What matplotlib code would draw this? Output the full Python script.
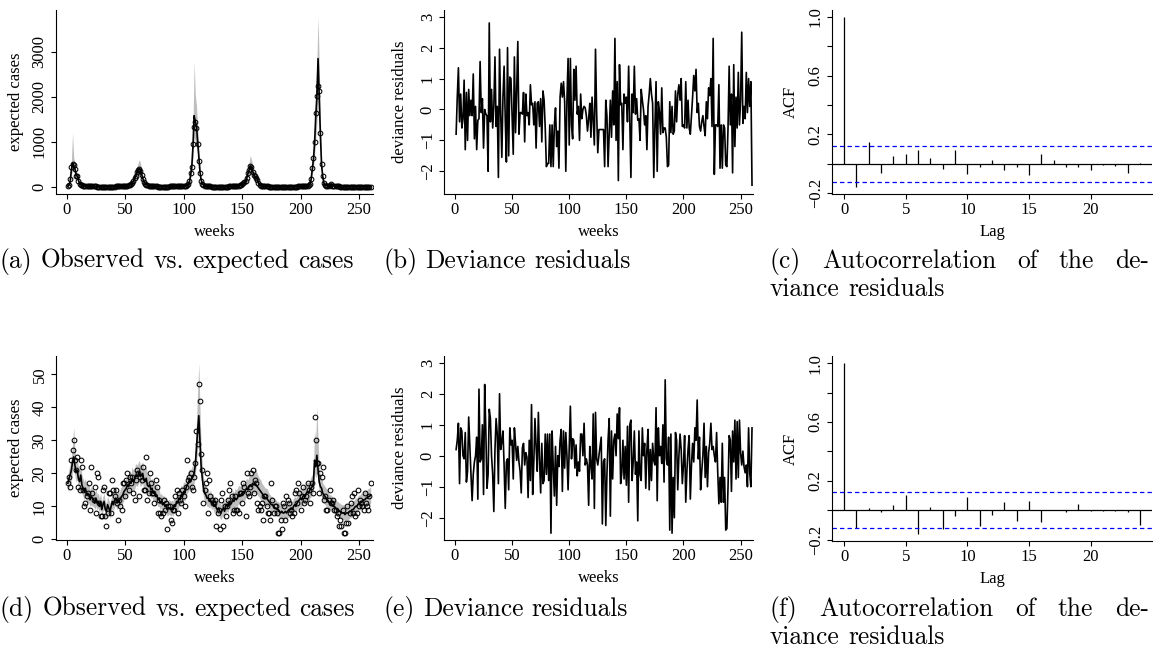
import numpy as np
import matplotlib
matplotlib.use("Agg")
import matplotlib.pyplot as plt

W, H, DPI = 1159, 662, 100

# ---------------- data ----------------
# Model 1: weekly counts (large outbreak data)
observed_a = [
    10, 40, 180, 430, 500, 480, 390, 240, 230, 120,
    70, 45, 30, 25, 20, 15, 12, 10, 8, 8,
    6, 6, 5, 5, 5, 4, 4, 4, 4, 3,
    3, 3, 3, 3, 3, 3, 3, 3, 4, 4,
    4, 5, 5, 6, 7, 8, 9, 10, 12, 15,
    18, 22, 30, 40, 60, 90, 130, 200, 240, 330,
    380, 400, 360, 260, 170, 110, 70, 45, 30, 20,
    15, 12, 10, 8, 6, 5, 5, 4, 4, 3,
    3, 3, 3, 3, 3, 4, 4, 5, 6, 7,
    8, 9, 10, 11, 12, 13, 14, 15, 16, 18,
    20, 25, 35, 60, 120, 300, 430, 960, 1330, 1430,
    1300, 960, 580, 310, 130, 60, 35, 20, 12, 8,
    6, 5, 5, 4, 4, 4, 4, 4, 4, 4,
    4, 4, 4, 4, 4, 4, 4, 4, 5, 5,
    6, 7, 8, 10, 12, 15, 20, 30, 45, 60,
    80, 100, 120, 200, 300, 380, 470, 430, 330, 250,
    230, 200, 150, 80, 40, 25, 15, 10, 8, 6,
    5, 5, 4, 4, 4, 3, 3, 3, 3, 3,
    3, 3, 3, 3, 3, 3, 3, 3, 3, 3,
    3, 3, 3, 3, 4, 4, 4, 5, 5, 6,
    7, 8, 10, 12, 15, 20, 30, 60, 170, 410,
    640, 1000, 1630, 2010, 2250, 2120, 1200, 500, 240, 80,
    40, 25, 18, 15, 30, 60, 25, 15, 10, 8,
    6, 5, 5, 4, 4, 4, 4, 3, 3, 3,
    3, 3, 3, 3, 3, 3, 3, 3, 3, 3,
    3, 3, 3, 3, 3, 3, 3, 3, 3, 3,
]
expected_a = [
    10, 30, 120, 380, 520, 480, 400, 280, 230, 140,
    80, 50, 35, 27, 22, 17, 13, 11, 9, 8,
    7, 6, 6, 5, 5, 5, 4, 4, 4, 4,
    4, 3, 3, 3, 3, 3, 3, 3, 4, 4,
    4, 5, 5, 6, 7, 8, 9, 10, 12, 14,
    17, 21, 28, 37, 55, 85, 120, 180, 230, 310,
    370, 400, 380, 290, 190, 120, 75, 50, 32, 22,
    16, 13, 10, 8, 7, 6, 5, 4, 4, 4,
    3, 3, 3, 3, 3, 4, 4, 5, 6, 7,
    8, 9, 10, 11, 12, 13, 14, 15, 17, 19,
    21, 25, 33, 55, 110, 260, 450, 900, 1580, 1450,
    1350, 1000, 620, 330, 150, 70, 38, 22, 14, 9,
    7, 6, 5, 5, 4, 4, 4, 4, 4, 4,
    4, 4, 4, 4, 4, 4, 4, 4, 5, 5,
    6, 7, 8, 10, 12, 15, 20, 28, 42, 58,
    78, 95, 115, 190, 290, 370, 450, 440, 350, 270,
    230, 200, 160, 90, 45, 27, 17, 11, 8, 6,
    5, 5, 4, 4, 4, 3, 3, 3, 3, 3,
    3, 3, 3, 3, 3, 3, 3, 3, 3, 3,
    3, 3, 3, 3, 4, 4, 4, 5, 5, 6,
    7, 8, 10, 12, 15, 19, 28, 55, 150, 380,
    600, 950, 1550, 2000, 2850, 2000, 1150, 480, 230, 80,
    40, 25, 18, 15, 28, 55, 27, 16, 11, 8,
    6, 5, 5, 4, 4, 4, 4, 3, 3, 3,
    3, 3, 3, 3, 3, 3, 3, 3, 3, 3,
    3, 3, 3, 3, 3, 3, 3, 3, 3, 3,
]
upper_a = [
    15, 45, 180, 550, 1200, 650, 520, 380, 300, 190,
    110, 70, 50, 38, 30, 24, 19, 16, 13, 11,
    10, 9, 8, 7, 7, 7, 6, 6, 6, 6,
    6, 5, 5, 5, 5, 5, 5, 5, 6, 6,
    6, 7, 7, 8, 10, 11, 13, 14, 17, 20,
    24, 30, 40, 52, 78, 120, 170, 250, 320, 430,
    520, 600, 540, 400, 270, 170, 105, 70, 45, 31,
    23, 18, 14, 11, 10, 8, 7, 6, 6, 6,
    5, 5, 5, 5, 5, 6, 6, 7, 8, 10,
    11, 13, 14, 15, 17, 18, 20, 21, 24, 27,
    30, 35, 46, 78, 155, 360, 630, 1300, 2800, 2050,
    1800, 1350, 850, 460, 210, 100, 53, 31, 20, 13,
    10, 8, 7, 7, 6, 6, 6, 6, 6, 6,
    6, 6, 6, 6, 6, 6, 6, 6, 7, 7,
    8, 10, 11, 14, 17, 21, 28, 40, 60, 82,
    110, 135, 165, 270, 410, 520, 700, 610, 480, 370,
    320, 280, 220, 125, 63, 38, 24, 16, 11, 8,
    7, 7, 6, 6, 6, 5, 5, 5, 5, 5,
    5, 5, 5, 5, 5, 5, 5, 5, 5, 5,
    5, 5, 5, 5, 6, 6, 6, 7, 7, 8,
    10, 11, 14, 17, 21, 27, 40, 78, 210, 530,
    840, 1330, 2100, 2800, 3780, 2700, 1550, 650, 320, 110,
    56, 35, 25, 21, 40, 78, 38, 23, 15, 11,
    8, 7, 7, 6, 6, 6, 6, 5, 5, 5,
    5, 5, 5, 5, 5, 5, 5, 5, 5, 5,
    5, 5, 5, 5, 5, 5, 5, 5, 5, 5,
]
lower_a = [
    7, 20, 80, 260, 360, 330, 280, 190, 160, 95,
    55, 35, 24, 19, 15, 12, 9, 8, 6, 5,
    5, 4, 4, 3, 3, 3, 3, 3, 3, 3,
    3, 2, 2, 2, 2, 2, 2, 2, 3, 3,
    3, 3, 3, 4, 5, 5, 6, 7, 8, 10,
    12, 15, 20, 26, 38, 60, 85, 125, 160, 215,
    255, 280, 265, 200, 130, 85, 52, 35, 22, 15,
    11, 9, 7, 5, 5, 4, 3, 3, 3, 3,
    2, 2, 2, 2, 2, 3, 3, 3, 4, 5,
    5, 6, 7, 8, 8, 9, 10, 10, 12, 13,
    15, 17, 23, 38, 77, 180, 315, 630, 1100, 1000,
    950, 700, 430, 230, 105, 49, 27, 15, 10, 6,
    5, 4, 3, 3, 3, 3, 3, 3, 3, 3,
    3, 3, 3, 3, 3, 3, 3, 3, 3, 3,
    4, 5, 6, 7, 8, 10, 14, 20, 29, 40,
    55, 66, 80, 130, 200, 260, 315, 310, 245, 190,
    160, 140, 110, 63, 31, 19, 12, 8, 6, 4,
    3, 3, 3, 3, 3, 2, 2, 2, 2, 2,
    2, 2, 2, 2, 2, 2, 2, 2, 2, 2,
    2, 2, 2, 2, 3, 3, 3, 3, 3, 4,
    5, 6, 7, 8, 10, 13, 20, 38, 105, 265,
    420, 660, 1080, 1400, 2000, 1400, 800, 335, 160, 56,
    28, 17, 13, 10, 20, 38, 19, 11, 8, 6,
    4, 3, 3, 3, 3, 3, 3, 2, 2, 2,
    2, 2, 2, 2, 2, 2, 2, 2, 2, 2,
    2, 2, 2, 2, 2, 2, 2, 2, 2, 2,
]
resid_b = [
    -0.8, 0.4, 1.35, -0.4, 0.5, -0.6, -0.3, 0.95, -1.3, 0.55,
    -1.0, 0.65, -0.2, 0.3, -0.2, 1.15, -0.95, 0.1, -1.3, -0.35,
    -0.3, 1.55, -0.1, 0.35, -1.25, 0.0, -0.15, -0.2, -2.0, 2.8,
    -0.4, 0.65, -0.6, 0.1, 1.7, -0.55, 0.1, -2.2, 1.95, -0.1,
    -1.55, 0.4, 1.4, -0.3, -1.7, 2.0, -1.5, 1.05, 1.0, -0.2,
    -1.45, 1.7, -0.75, 0.6, 2.2, -0.8, -0.1, -0.1, -0.15, 0.55,
    -1.05, 0.5, -0.2, -0.1, -0.5, 0.8, 0.15, 0.2, -0.5, 0.25,
    -1.25, 0.2, 0.25, -0.55, 0.35, -1.05, 0.6, 0.3, -0.6, -1.85,
    -1.75, -1.75, -0.5, -1.85, -0.5, -1.85, -0.5, 0.05, -1.2, -0.7,
    -1.9, 0.4, 0.85, 0.4, 0.9, 0.25, -2.0, 0.3, 1.65, -1.15,
    1.65, -0.5, -0.95, 1.3, 0.3, 1.4, -0.15, 0.1, -1.0, 0.5,
    -0.3, 0.0, 0.1, 0.05, -0.2, -0.7, -0.3, 0.2, -0.9, 0.4,
    -0.4, -1.15, 1.95, -0.1, -1.4, -0.65, -0.65, -0.65, -0.65, -0.65,
    -1.85, 0.3, -0.2, -1.85, -0.8, 0.3, -0.9, 0.6, -0.5, 2.3,
    -1.0, 0.9, -2.3, 1.45, 0.15, 0.2, -1.3, 0.5, 0.2, 0.4,
    -0.4, 1.4, -0.3, -2.2, 0.5, -0.1, 1.4, -0.15, 0.35, -0.35,
    -0.3, -1.0, 0.65, 0.3, 0.0, -0.5, -0.2, -1.3, 0.1, 0.5,
    1.0, 0.5, 0.2, -2.2, -0.55, 0.9, -2.0, 0.25, -0.1, -0.8,
    0.7, -0.75, -0.6, -0.6, -0.9, -1.85, -1.8, 0.25, -0.75, 0.1,
    -0.8, -0.7, 0.6, -0.4, 0.5, 0.8, 0.3, 1.0, -0.55, -0.5,
    -0.6, 0.9, -0.6, 0.3, -0.6, -0.8, -0.2, 0.4, 1.1, 0.6,
    1.3, -0.1, 0.2, -0.55, -0.7, -0.4, -0.2, -0.55, -0.85, 0.25,
    -0.3, 0.7, 0.45, 1.0, -0.55, 2.3, -2.1, -0.5, -0.5, -0.55,
    0.8, -1.9, -0.5, -1.9, -0.5, -0.6, -1.8, -1.85, -0.6, 1.4,
    -0.5, 0.5, -2.05, 1.45, -1.2, 0.4, -0.6, 1.2, -0.5, 0.3,
    2.5, -0.45, 0.1, -0.3, 1.2, -0.1, 1.0, 0.1, 0.9, -2.45,
]
acf_lag = list(range(25))
acf_c = [1.0, -0.16, 0.15, -0.065, 0.055, 0.065, 0.095, 0.04, -0.035, 0.09,
         -0.07, -0.02, 0.025, -0.045, -0.025, -0.075, 0.065, 0.025, -0.025,
         -0.025, -0.04, -0.01, -0.015, -0.065, 0.005]

# Model 2: weekly counts (small counts data)
observed_d = [
    17, 19, 16, 24, 27, 30, 24, 21, 25, 16,
    15, 24, 22, 15, 10, 11, 13, 14, 17, 9,
    22, 14, 12, 16, 8, 20, 19, 11, 7, 7,
    15, 16, 7, 4, 8, 14, 14, 8, 18, 15,
    13, 15, 11, 6, 12, 10, 9, 17, 17, 13,
    18, 20, 15, 19, 17, 19, 14, 12, 18, 21,
    20, 13, 19, 18, 22, 15, 15, 25, 12, 14,
    20, 17, 14, 14, 11, 18, 16, 8, 12, 8,
    7, 8, 12, 9, 11, 3, 10, 10, 6, 5,
    9, 9, 13, 15, 8, 14, 12, 11, 15, 13,
    10, 16, 24, 18, 19, 20, 16, 15, 19, 23,
    33, 29, 47, 42, 26, 21, 11, 15, 17, 20,
    8, 18, 13, 12, 11, 11, 12, 4, 8, 9,
    3, 12, 14, 4, 10, 7, 10, 12, 15, 17,
    13, 8, 9, 13, 9, 9, 8, 14, 14, 11,
    17, 16, 7, 20, 14, 13, 16, 20, 21, 14,
    18, 17, 11, 9, 10, 9, 11, 6, 13, 13,
    10, 8, 8, 6, 17, 12, 8, 10, 10, 8,
    2, 2, 6, 3, 11, 10, 6, 13, 12, 11,
    8, 9, 7, 8, 14, 15, 11, 17, 14, 9,
    13, 16, 11, 12, 13, 17, 15, 11, 16, 17,
    14, 37, 30, 23, 23, 14, 20, 19, 22, 12,
    13, 9, 9, 12, 15, 11, 11, 12, 9, 9,
    7, 8, 4, 6, 4, 9, 2, 2, 5, 10,
    5, 8, 11, 13, 8, 14, 7, 8, 15, 10,
    12, 11, 10, 9, 14, 11, 10, 9, 13, 17,
]
expected_d = [
    17.0, 18.5, 19.5, 21.0, 23.5, 25.0, 22.5, 20.5, 21.0, 18.5,
    17.5, 19.5, 16.5, 15.5, 14.5, 15.5, 13.5, 14.0, 13.5, 12.0,
    13.0, 12.5, 12.0, 11.0, 12.5, 11.0, 11.5, 10.0, 11.5, 9.0,
    10.5, 11.5, 9.0, 8.5, 10.5, 9.5, 8.5, 10.0, 11.5, 10.5,
    12.0, 12.5, 11.0, 12.0, 11.5, 12.5, 13.0, 13.5, 14.5, 15.0,
    15.5, 16.5, 16.0, 17.5, 17.0, 18.5, 17.5, 18.0, 19.5, 19.0,
    19.5, 20.5, 19.0, 19.5, 20.0, 18.0, 17.5, 18.5, 16.5, 16.0,
    16.5, 15.0, 15.5, 14.0, 14.5, 13.0, 13.5, 12.0, 12.5, 11.0,
    11.5, 10.5, 11.0, 10.0, 10.5, 9.0, 9.5, 9.5, 9.0, 9.5,
    9.0, 10.5, 10.0, 11.5, 11.0, 12.5, 12.0, 13.5, 13.0, 14.5,
    14.0, 15.5, 16.5, 17.0, 18.0, 17.5, 18.5, 19.0, 20.0, 22.5,
    28.0, 33.0, 37.5, 30.0, 22.0, 18.5, 15.5, 14.0, 13.5, 12.5,
    12.5, 11.5, 12.0, 11.0, 11.5, 10.0, 10.5, 9.5, 9.0, 9.5,
    8.5, 8.0, 9.0, 9.5, 8.5, 10.0, 10.5, 10.0, 11.5, 10.5,
    11.0, 12.0, 11.5, 12.5, 12.0, 12.5, 13.5, 13.0, 13.5, 14.0,
    14.5, 14.0, 15.0, 15.5, 15.0, 16.0, 16.5, 16.0, 17.0, 16.5,
    17.0, 16.5, 16.0, 15.5, 15.0, 14.5, 14.0, 13.5, 13.0, 12.5,
    12.5, 12.0, 11.5, 11.0, 10.5, 10.5, 10.0, 9.5, 9.5, 9.0,
    9.0, 8.5, 8.0, 8.5, 8.0, 8.0, 8.5, 8.0, 8.5, 9.0,
    9.0, 9.5, 9.0, 10.0, 10.5, 10.0, 11.0, 11.5, 12.0, 12.5,
    12.0, 13.0, 13.5, 13.0, 14.0, 14.5, 14.0, 15.0, 15.5, 16.0,
    17.0, 24.0, 22.0, 25.5, 21.0, 17.5, 16.0, 15.5, 14.0, 13.5,
    13.0, 12.5, 12.0, 11.5, 11.0, 11.0, 10.5, 10.0, 10.0, 9.5,
    9.0, 9.0, 8.5, 8.5, 8.0, 8.0, 8.0, 7.5, 8.0, 8.0,
    8.0, 8.5, 8.5, 9.0, 9.0, 9.5, 10.0, 10.0, 10.5, 11.0,
    11.0, 11.5, 11.5, 12.0, 12.0, 12.5, 12.5, 13.0, 13.0, 13.5,
]
upper_d = [
    19.5, 21.5, 23.0, 25.0, 29.0, 34.0, 27.5, 24.0, 24.5, 22.0,
    21.0, 23.0, 19.5, 18.5, 17.5, 18.5, 16.5, 17.0, 16.5, 15.0,
    16.0, 15.5, 15.0, 13.5, 15.5, 13.5, 14.0, 12.5, 14.0, 11.5,
    13.0, 14.0, 11.5, 11.0, 13.0, 12.0, 11.0, 12.5, 14.0, 13.0,
    15.0, 15.5, 13.5, 15.0, 14.0, 15.5, 16.0, 16.5, 17.5, 18.0,
    18.5, 19.5, 19.0, 21.0, 20.0, 22.0, 21.0, 21.5, 23.0, 22.5,
    23.0, 24.0, 22.5, 23.0, 23.5, 21.5, 21.0, 22.0, 19.5, 19.0,
    19.5, 18.0, 18.5, 17.0, 17.5, 16.0, 16.5, 15.0, 15.5, 13.5,
    14.0, 13.0, 13.5, 12.5, 13.0, 11.5, 12.0, 12.0, 11.5, 12.0,
    11.5, 13.0, 12.5, 14.0, 13.5, 15.5, 15.0, 16.5, 16.0, 17.5,
    17.0, 18.5, 19.5, 20.5, 21.5, 21.0, 22.0, 22.5, 24.0, 28.0,
    36.0, 45.0, 53.5, 40.0, 28.0, 23.0, 19.0, 17.0, 16.5, 15.5,
    15.5, 14.0, 15.0, 13.5, 14.0, 12.5, 13.0, 12.0, 11.5, 12.0,
    11.0, 10.5, 11.5, 12.0, 11.0, 12.5, 13.0, 12.5, 14.0, 13.0,
    13.5, 15.0, 14.0, 15.5, 15.0, 15.5, 16.5, 16.0, 16.5, 17.0,
    17.5, 17.0, 18.0, 18.5, 18.0, 19.5, 20.0, 19.5, 21.0, 20.5,
    21.5, 21.0, 20.0, 19.0, 18.5, 18.0, 17.0, 16.5, 16.0, 15.5,
    15.5, 15.0, 14.0, 13.5, 13.0, 13.0, 12.5, 12.0, 12.0, 11.5,
    11.5, 11.0, 10.5, 11.0, 10.5, 10.5, 11.0, 10.5, 11.0, 11.5,
    11.5, 12.0, 11.5, 12.5, 13.0, 12.5, 13.5, 14.0, 15.0, 15.5,
    15.0, 16.0, 16.5, 16.0, 17.0, 17.5, 17.0, 18.0, 19.0, 19.5,
    21.0, 33.0, 30.0, 40.5, 30.0, 22.0, 19.5, 19.0, 17.0, 16.5,
    16.0, 15.5, 15.0, 14.0, 13.5, 13.5, 13.0, 12.5, 12.5, 12.0,
    11.5, 11.5, 11.0, 11.0, 10.5, 10.5, 10.5, 10.0, 10.5, 10.5,
    10.5, 11.0, 11.0, 11.5, 11.5, 12.0, 12.5, 12.5, 13.0, 13.5,
    13.5, 14.0, 14.0, 14.5, 14.5, 15.0, 15.0, 15.5, 15.5, 16.0,
]
lower_d = [
    14.5, 15.5, 16.5, 18.0, 20.5, 21.5, 19.5, 17.5, 18.0, 15.5,
    14.5, 16.5, 14.0, 13.0, 12.0, 13.0, 11.0, 11.5, 11.0, 10.0,
    10.5, 10.0, 10.0, 9.0, 10.0, 9.0, 9.5, 8.0, 9.5, 7.0,
    8.5, 9.5, 7.0, 6.5, 8.5, 7.5, 6.5, 8.0, 9.5, 8.5,
    10.0, 10.0, 9.0, 10.0, 9.5, 10.0, 10.5, 11.0, 12.0, 12.5,
    13.0, 14.0, 13.5, 14.5, 14.5, 15.5, 14.5, 15.0, 16.5, 16.0,
    16.5, 17.5, 16.0, 16.5, 17.0, 15.0, 14.5, 15.5, 14.0, 13.5,
    14.0, 12.5, 13.0, 11.5, 12.0, 10.5, 11.0, 10.0, 10.0, 9.0,
    9.5, 8.5, 9.0, 8.0, 8.5, 7.0, 7.5, 7.5, 7.0, 7.5,
    7.0, 8.5, 8.0, 9.5, 9.0, 10.0, 10.0, 11.0, 10.5, 12.0,
    11.5, 13.0, 14.0, 14.5, 15.0, 14.5, 15.5, 16.0, 17.0, 19.0,
    23.5, 27.0, 30.5, 24.5, 18.5, 15.5, 13.0, 11.5, 11.0, 10.0,
    10.0, 9.5, 10.0, 9.0, 9.5, 8.0, 8.5, 7.5, 7.0, 7.5,
    6.5, 6.0, 7.0, 7.5, 6.5, 8.0, 8.5, 8.0, 9.5, 8.5,
    9.0, 10.0, 9.5, 10.0, 10.0, 10.0, 11.0, 10.5, 11.0, 11.5,
    12.0, 11.5, 12.5, 13.0, 12.5, 13.5, 14.0, 13.5, 14.0, 14.0,
    14.0, 14.0, 13.5, 13.0, 12.5, 12.0, 11.5, 11.0, 10.5, 10.0,
    10.0, 10.0, 9.5, 9.0, 8.5, 8.5, 8.0, 7.5, 7.5, 7.0,
    7.0, 6.5, 6.0, 6.5, 6.0, 6.0, 6.5, 6.0, 6.5, 7.0,
    7.0, 7.5, 7.0, 8.0, 8.5, 8.0, 9.0, 9.5, 10.0, 10.0,
    10.0, 10.5, 11.0, 10.5, 11.5, 12.0, 11.5, 12.5, 13.0, 13.5,
    14.5, 20.0, 18.5, 21.0, 17.5, 14.5, 13.5, 13.0, 11.5, 11.0,
    10.5, 10.0, 10.0, 9.5, 9.0, 9.0, 8.5, 8.0, 8.0, 7.5,
    7.0, 7.0, 6.5, 6.5, 6.0, 6.0, 6.0, 5.5, 6.0, 6.0,
    6.0, 6.5, 6.5, 7.0, 7.0, 7.5, 8.0, 8.0, 8.5, 9.0,
    9.0, 9.5, 9.5, 10.0, 10.0, 10.0, 10.0, 10.5, 10.5, 11.0,
]
resid_e = [
    0.2, 0.5, 1.05, -0.9, 0.9, 0.8, 0.0, -0.1, 0.75, -0.85,
    -0.5, 1.25, 0.3, -0.6, -1.45, -0.6, -0.2, 0.0, 0.6, -1.4,
    2.15, -0.2, -0.1, 1.0, -1.25, 2.3, 0.8, -1.05, -0.6, 1.5,
    1.2, 0.0, -0.6, -1.8, 0.2, 1.2, 0.7, -0.9, 2.0, 0.2,
    0.45, 0.8, -0.3, -1.7, -0.2, -0.1, -1.1, 0.9, 0.35, 0.5,
    -0.75, 0.9, 0.4, -0.15, 0.3, -0.2, -0.5, -1.2, 0.25, 0.4,
    -0.3, 0.1, -0.05, -1.35, 0.5, -0.8, 1.65, -1.25, -0.2, 1.2,
    0.3, -0.5, 1.4, -0.1, -1.2, 0.4, -0.9, -0.8, 0.7, -0.6,
    0.7, -0.8, 0.7, -2.5, 0.8, -0.35, -1.3, 0.3, -1.6, 0.0,
    -0.35, 0.5, 0.85, -1.15, 0.8, -0.4, 0.75, 0.0, -1.1, 0.3,
    1.6, -0.1, 0.55, 0.5, -0.4, 0.35, -0.65, -0.2, -0.5, 0.7,
    0.7, 0.0, 1.05, -0.3, -0.1, -0.3, -1.6, 0.3, -0.3, -0.75,
    1.35, -1.7, 1.4, -0.1, -0.3, 0.0, 0.3, 0.6, -2.2, -0.2,
    -0.1, -2.25, -0.6, 0.5, 1.2, -1.95, 0.8, -0.75, 0.5, 0.7,
    0.0, 1.35, 0.55, 1.55, -0.9, -0.55, 0.5, -0.75, 0.3, -0.95,
    0.95, -1.5, 1.0, 1.15, -0.8, -0.2, 0.8, -0.6, -0.2, -2.1,
    0.8, -0.6, -0.8, 0.9, 0.0, 0.4, -1.05, 0.2, 0.85, -1.1,
    0.2, -0.8, 0.4, -0.15, -0.3, 1.55, -1.45, 0.9, 0.0, 0.3,
    -0.25, 1.0, -0.85, 2.45, -0.1, -0.3, 0.6, -2.4, 0.7, -2.5,
    -0.7, -2.0, 0.75, 0.5, -1.1, 0.0, 0.7, 0.2, -0.9, -0.3,
    0.65, -1.5, -0.5, 0.2, 0.65, -1.4, -0.3, 0.4, -0.2, 0.9,
    0.5, 1.8, -0.1, 0.6, -1.1, -0.5, 0.0, 1.05, -0.7, 0.3,
    -1.0, 0.1, 0.4, 1.05, 0.2, 0.3, 0.0, -0.2, 0.75, -0.55,
    -1.55, -0.7, -1.5, 0.4, -1.5, -0.7, -2.4, -2.35, -1.0, 0.65,
    0.5, -1.15, 0.8, -0.2, 1.15, -0.75, 1.1, -0.7, 1.15, 0.1,
    -0.3, 0.15, -0.35, -0.55, -0.3, -1.0, 0.9, -0.55, -1.0, 0.9,
]
acf_f = [1.0, -0.12, 0.015, -0.01, 0.035, 0.105, -0.16, 0.02, -0.13, -0.04,
         0.09, -0.105, -0.03, 0.055, -0.075, 0.065, -0.08, 0.0, -0.01, 0.04,
         -0.005, -0.002, -0.005, -0.01, -0.1]
acf_bound = 0.1216   # 1.96 / sqrt(n), n = 260

week_ticks = [0, 50, 100, 150, 200, 250]
lag_ticks = [0, 5, 10, 15, 20]
captions = {
    "a": "(a) Observed vs. expected cases",
    "b": "(b) Deviance residuals",
    "d": "(d) Observed vs. expected cases",
    "e": "(e) Deviance residuals",
}
acf_caption = ("(c) Autocorrelation of the de-", "viance residuals")
acf_caption_f = ("(f) Autocorrelation of the de-", "viance residuals")

# ---------------- figure ----------------
plt.rcParams["font.family"] = ["Liberation Serif", "DejaVu Serif"]
plt.rcParams["axes.unicode_minus"] = True

fig = plt.figure(figsize=(W / DPI, H / DPI), dpi=DPI, facecolor="white")
LAB = 12
GREY = "#bebebe"


def axes_px(left, right, top, bottom):
    return fig.add_axes([left / W, 1 - bottom / H, (right - left) / W, (bottom - top) / H])


def r_style(ax, xlim, ylim, xticks, yticks, ylabels, xlabel, ylabel, ylab_off, xlab_off=38.5):
    ax.set_xlim(*xlim)
    ax.set_ylim(*ylim)
    for s in ("top", "right"):
        ax.spines[s].set_visible(False)
    for s in ("left", "bottom"):
        ax.spines[s].set_linewidth(0.8)
    ax.set_xticks(xticks, [str(t) for t in xticks])
    ax.set_yticks(yticks, ylabels, rotation=90, va="center")
    ax.tick_params(direction="out", length=3.6, width=0.8, labelsize=LAB, pad=2.5)
    ax.set_xlabel(xlabel, fontsize=LAB)
    ax.set_ylabel(ylabel, fontsize=LAB)
    bb = ax.get_position()
    hpx = bb.height * H
    wpx = bb.width * W
    ax.xaxis.set_label_coords(0.5, -xlab_off / hpx)
    ax.xaxis.label.set_va("center")
    ax.yaxis.set_label_coords(-ylab_off / wpx, 0.5)
    ax.yaxis.label.set_va("center")


def minus(v):
    s = f"{v:g}"
    return s.replace("-", "\u2212")


weeks = np.arange(1, len(resid_b) + 1)


# --- counts panels ---
def counts_panel(top, bottom, obs, exp, lo, hi, ylim, yticks):
    ax = axes_px(56, 373, top, bottom)
    ax.fill_between(weeks, lo, hi, color=GREY, lw=0)
    ax.plot(weeks, exp, color="black", lw=1.2)
    ax.plot(weeks, obs, "o", mfc="none", mec="black", ms=3.4, mew=0.75)
    r_style(ax, (-9.15, 262.0), ylim, week_ticks, yticks, [minus(t) for t in yticks],
            "weeks", "expected cases", 40)
    return ax


counts_panel(10, 193.5, observed_a, expected_a, lower_a, upper_a,
             (-151, 3931), [0, 1000, 2000, 3000])
counts_panel(356, 540, observed_d, expected_d, lower_d, upper_d,
             (-0.2, 55.6), [0, 10, 20, 30, 40, 50])


# --- residual panels ---
def resid_panel(top, bottom, res):
    ax = axes_px(444.3, 752.7, top, bottom)
    ax.plot(weeks, res, color="black", lw=1.2)
    yt = [-2, -1, 0, 1, 2, 3]
    r_style(ax, (-9.35, 260.6), (-2.72, 3.22), week_ticks, yt, [minus(t) for t in yt],
            "weeks", "deviance residuals", 44)
    return ax


resid_panel(10, 193.5, resid_b)
resid_panel(356, 540, resid_e)


# --- ACF panels ---
def acf_panel(top, bottom, vals):
    ax = axes_px(832.2, 1151.8, top, bottom)
    ax.vlines(acf_lag, 0, vals, color="black", lw=0.9)
    ax.axhline(0, color="black", lw=0.9)
    for b in (acf_bound, -acf_bound):
        ax.axhline(b, color="blue", lw=0.9, ls=(0, (3.5, 2.5)))
    yt = [-0.2, 0.0, 0.2, 0.4, 0.6, 0.8, 1.0]
    yl = ["\u22120.2", "", "0.2", "", "0.6", "", "1.0"]
    r_style(ax, (-0.96, 24.96), (-0.2064, 1.046), lag_ticks, yt, yl, "Lag", "ACF", 41)
    return ax


acf_panel(10, 194, acf_c)
acf_panel(356.5, 540.6, acf_f)

# ---------------- captions ----------------
CAP_FONT = "cmr10"
CAP_SIZE = 18.3
fig.canvas.draw()
renderer = fig.canvas.get_renderer()


def place_words(words, x0, y, x1=None):
    texts = [fig.text(0, 0, w, fontsize=CAP_SIZE, family=CAP_FONT, va="baseline")
             for w in words]
    widths = [t.get_window_extent(renderer).width for t in texts]
    space = CAP_SIZE * DPI / 72 * 0.333
    if x1 is not None and len(words) > 1:
        space = ((x1 - x0) - sum(widths)) / (len(words) - 1)
    x = x0
    for t, w in zip(texts, widths):
        t.set_position((x / W, 1 - y / H))
        x += w + space


place_words(captions["a"].split(), 0, 268)
place_words(captions["b"].split(), 383, 268)
place_words(acf_caption[0].split(), 770, 268, 1149)
place_words(acf_caption[1].split(), 770, 296)
place_words(captions["d"].split(), 0, 616)
place_words(captions["e"].split(), 383, 616)
place_words(acf_caption_f[0].split(), 770, 616, 1149)
place_words(acf_caption_f[1].split(), 770, 644)

fig.savefig("out.png", dpi=DPI, facecolor="white")
